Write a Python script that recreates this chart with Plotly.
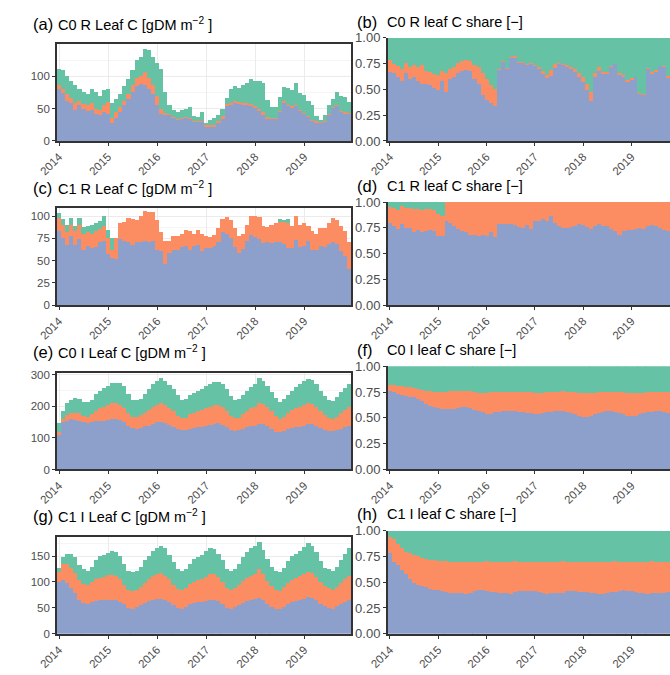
import plotly.graph_objects as go
import pandas as pd

# Monthly time axis (first of each month, Jan 2014 - Dec 2019)
months = pd.date_range("2014-01-01", "2019-12-01", freq="MS")
year_ticks = ["2014-01-01", "2015-01-01", "2016-01-01", "2017-01-01", "2018-01-01", "2019-01-01"]
year_labels = ["2014", "2015", "2016", "2017", "2018", "2019"]

# ---- (a) C0 R leaf C [gDM m-2] ----
c0r_blue = [80, 74, 62, 58, 48, 55, 50, 46, 48, 42, 40, 44,
            42, 28, 35, 45, 55, 65, 75, 85, 88, 86, 80, 72,
            55, 42, 40, 40, 36, 33, 35, 36, 35, 30, 30, 30,
            22, 22, 22, 28, 35, 55, 57, 60, 58, 57, 56, 55,
            52, 46, 40, 35, 34, 34, 45, 60, 55, 52, 54, 47,
            42, 38, 32, 29, 28, 30, 40, 52, 55, 45, 43, 42]
c0r_orange = [6, 6, 10, 8, 10, 7, 7, 9, 10, 8, 7, 11,
              18, 8, 9, 7, 7, 8, 11, 13, 12, 20, 18, 14,
              15, 8, 3, 2, 1, 1, 1, 1, 1, 1, 1, 1,
              2, 2, 2, 2, 3, 2, 2, 2, 2, 2, 2, 2,
              2, 4, 4, 2, 1, 1, 1, 1, 1, 2, 2, 1,
              1, 1, 1, 1, 2, 1, 1, 1, 1, 1, 1, 1]
c0r_green = [25, 30, 28, 26, 29, 18, 18, 17, 22, 25, 23, 23,
             20, 22, 21, 20, 23, 22, 24, 27, 30, 36, 42, 44,
             50, 62, 33, 13, 11, 11, 11, 13, 16, 7, 6, 14,
             4, 8, 11, 10, 12, 9, 21, 23, 22, 27, 32, 38,
             39, 42, 46, 26, 17, 17, 22, 23, 26, 24, 34, 26,
             28, 23, 22, 8, 2, 9, 14, 12, 20, 24, 24, 17]

# ---- (b) C0 R leaf C share [-] ----
c0r_share_blue = [.67, .66, .62, .58, .66, .60, .62, .58, .55, .55, .54, .52,
                  .50, .58, .48, .60, .62, .66, .68, .69, .68, .60, .55, .45,
                  .40, .37, .34, .69, .77, .70, .81, .81, .76, .76, .74, .75,
                  .73, .70, .65, .61, .63, .71, .75, .74, .72, .70, .67, .62,
                  .57, .50, .39, .62, .68, .66, .66, .72, .75, .65, .63, .58,
                  .60, .62, .46, .45, .70, .66, .68, .73, .72, .61, .55, .55]
c0r_share_orange = [.12, .09, .11, .12, .10, .12, .12, .14, .19, .13, .13, .13,
                    .14, .10, .18, .10, .10, .10, .10, .10, .10, .14, .17, .21,
                    .20, .17, .17, .01, .01, .01, .01, .02, .01, .01, .01, .01,
                    .01, .02, .03, .03, .06, .04, .01, .01, .02, .02, .03, .04,
                    .05, .05, .09, .04, .04, .01, .01, .01, .00, .01, .01, .01,
                    .01, .00, .01, .01, .01, .01, .01, .00, .01, .02, .01, .01]
c0r_share_green = [.21, .25, .27, .30, .24, .28, .26, .28, .26, .32, .33, .35,
                   .36, .32, .34, .30, .28, .24, .22, .21, .22, .26, .28, .34,
                   .40, .46, .49, .30, .22, .29, .18, .17, .23, .23, .25, .24,
                   .26, .28, .32, .36, .31, .25, .24, .25, .26, .28, .30, .34,
                   .38, .45, .52, .34, .28, .33, .33, .27, .25, .34, .36, .41,
                   .39, .38, .53, .54, .29, .33, .31, .27, .27, .37, .44, .44]

# ---- (c) C1 R leaf C [gDM m-2] ----
c1r_blue = [83, 75, 67, 77, 67, 74, 62, 66, 64, 65, 70, 72,
            57, 52, 51, 74, 72, 70, 67, 70, 70, 72, 70, 72,
            62, 60, 46, 58, 61, 62, 65, 66, 61, 66, 67, 60,
            64, 64, 66, 70, 82, 80, 75, 65, 58, 63, 72, 78,
            76, 74, 69, 70, 69, 70, 70, 68, 64, 64, 73, 65,
            66, 72, 61, 61, 66, 65, 68, 71, 68, 60, 55, 40]
c1r_orange = [14, 15, 15, 13, 16, 16, 18, 16, 16, 18, 15, 16,
              18, 10, 24, 18, 21, 27, 29, 25, 30, 33, 34, 32,
              33, 22, 26, 14, 16, 15, 15, 18, 22, 14, 17, 20,
              13, 12, 12, 16, 14, 19, 20, 21, 19, 17, 18, 22,
              24, 25, 19, 17, 21, 22, 24, 25, 28, 24, 27, 25,
              26, 17, 22, 19, 20, 21, 24, 26, 27, 28, 28, 30]
c1r_green = [6, 6, 8, 7, 5, 7, 7, 6, 10, 9, 9, 12,
             9, 13, 0, 0, 0, 0, 0, 0, 0, 0, 0, 0,
             0, 0, 0, 0, 0, 0, 0, 0, 0, 0, 0, 0,
             0, 0, 0, 0, 0, 0, 0, 0, 0, 0, 0, 0,
             0, 0, 0, 0, 0, 0, 2, 2, 4, 0, 0, 0,
             0, 0, 0, 0, 0, 0, 0, 0, 0, 0, 0, 0]

# ---- (d) C1 R leaf C share [-] ----
c1r_share_blue = [.80, .77, .74, .79, .75, .75, .71, .73, .71, .72, .73, .72,
                  .67, .67, .82, .80, .77, .74, .72, .71, .68, .68, .67, .68,
                  .67, .71, .66, .79, .79, .79, .79, .78, .76, .75, .78, .74,
                  .82, .82, .84, .82, .86, .80, .77, .75, .75, .76, .77, .79,
                  .78, .76, .74, .77, .79, .77, .77, .74, .72, .68, .72, .73,
                  .73, .74, .75, .74, .77, .78, .77, .75, .73, .72, .68, .67]
c1r_share_orange = [.15, .17, .18, .17, .19, .19, .22, .20, .21, .21, .20, .20,
                    .21, .19, .18, .20, .23, .26, .28, .29, .32, .32, .33, .32,
                    .33, .29, .34, .21, .21, .21, .21, .22, .24, .25, .22, .26,
                    .18, .18, .16, .18, .14, .20, .23, .25, .25, .24, .23, .21,
                    .22, .24, .26, .23, .21, .23, .23, .26, .28, .32, .28, .27,
                    .27, .26, .25, .26, .23, .22, .23, .25, .27, .28, .32, .33]
c1r_share_green = [.05, .06, .08, .04, .06, .06, .07, .07, .08, .07, .07, .08,
                   .12, .14, 0, 0, 0, 0, 0, 0, 0, 0, 0, 0,
                   0, 0, 0, 0, 0, 0, 0, 0, 0, 0, 0, 0,
                   0, 0, 0, 0, 0, 0, 0, 0, 0, 0, 0, 0,
                   0, 0, 0, 0, 0, 0, 0, 0, 0, 0, 0, 0,
                   0, 0, 0, 0, 0, 0, 0, 0, 0, 0, 0, 0]

# ---- (e) C0 I leaf C [gDM m-2] ----
c0i_blue = [110, 150, 155, 160, 158, 153, 150, 148, 150, 155, 155, 155,
            158, 160, 160, 158, 150, 140, 132, 130, 132, 138, 140, 145,
            150, 152, 148, 142, 135, 128, 125, 125, 128, 132, 135, 135,
            138, 142, 145, 148, 142, 135, 125, 122, 125, 130, 135, 138,
            140, 145, 145, 140, 128, 120, 118, 122, 128, 132, 135, 135,
            140, 145, 145, 140, 132, 125, 122, 122, 125, 130, 135, 138]
c0i_orange = [10, 10, 17, 20, 22, 25, 20, 20, 25, 30, 40, 45,
              47, 50, 50, 47, 45, 40, 36, 38, 40, 42, 50, 55,
              55, 60, 57, 53, 50, 42, 40, 40, 47, 48, 50, 55,
              57, 58, 60, 57, 56, 50, 45, 43, 40, 45, 50, 57,
              60, 67, 63, 60, 57, 50, 42, 46, 50, 56, 60, 65,
              65, 67, 63, 60, 53, 47, 43, 40, 43, 48, 55, 62]
c0i_green = [28, 25, 38, 42, 48, 47, 45, 47, 47, 55, 55, 58,
             60, 65, 65, 70, 70, 60, 54, 52, 53, 60, 65, 70,
             75, 78, 77, 73, 70, 65, 57, 60, 60, 62, 63, 65,
             70, 72, 73, 71, 72, 70, 62, 55, 60, 63, 65, 67,
             72, 78, 72, 65, 60, 58, 55, 57, 60, 62, 67, 70,
             75, 76, 77, 70, 65, 60, 55, 56, 62, 67, 70, 72]

# ---- (f) C0 I leaf C share [-] ----
c0i_share_blue = [.76, .75, .73, .72, .71, .70, .70, .68, .66, .63, .61, .60,
                  .59, .58, .58, .58, .58, .59, .60, .60, .59, .57, .56, .55,
                  .53, .53, .55, .55, .56, .56, .56, .56, .55, .55, .54, .54,
                  .53, .53, .54, .55, .55, .56, .56, .56, .55, .54, .53, .52,
                  .51, .51, .52, .53, .54, .55, .56, .56, .55, .54, .53, .52,
                  .52, .52, .53, .54, .55, .55, .56, .56, .55, .54, .53, .53]
c0i_share_orange = [.06, .07, .08, .09, .09, .10, .09, .10, .11, .13, .15, .15,
                    .16, .17, .17, .18, .18, .17, .16, .16, .17, .18, .18, .19,
                    .21, .22, .20, .20, .19, .19, .19, .19, .20, .20, .21, .21,
                    .21, .21, .20, .20, .20, .19, .19, .20, .20, .21, .22, .22,
                    .23, .23, .22, .21, .21, .20, .19, .19, .20, .21, .22, .22,
                    .22, .22, .21, .20, .20, .20, .19, .19, .20, .21, .22, .22]
c0i_share_green = [.18, .18, .19, .19, .20, .20, .21, .22, .23, .24, .24, .25,
                   .25, .25, .25, .24, .24, .24, .24, .24, .24, .25, .26, .26,
                   .26, .25, .25, .25, .25, .25, .25, .25, .25, .25, .25, .25,
                   .26, .26, .26, .25, .25, .25, .25, .24, .25, .25, .25, .26,
                   .26, .26, .26, .26, .25, .25, .25, .25, .25, .25, .25, .26,
                   .26, .26, .26, .26, .25, .25, .25, .25, .25, .25, .25, .25]

# ---- (g) C1 I leaf C [gDM m-2] ----
c1i_blue = [100, 103, 98, 88, 78, 66, 60, 58, 62, 64, 65, 66,
            66, 66, 65, 62, 57, 50, 48, 52, 55, 60, 63, 66,
            68, 68, 66, 62, 55, 50, 48, 52, 57, 60, 62, 62,
            64, 66, 66, 64, 58, 50, 48, 52, 56, 60, 63, 65,
            68, 70, 66, 58, 52, 48, 48, 52, 58, 62, 64, 66,
            68, 71, 70, 65, 58, 54, 50, 48, 53, 58, 62, 65]
c1i_orange = [20, 32, 37, 40, 40, 38, 37, 37, 38, 41, 43, 44,
              47, 47, 47, 43, 38, 35, 34, 33, 35, 38, 42, 46,
              47, 50, 46, 43, 40, 37, 37, 36, 39, 40, 41, 44,
              46, 49, 49, 46, 42, 38, 37, 36, 39, 42, 45, 47,
              47, 55, 49, 44, 40, 37, 34, 38, 40, 42, 44, 46,
              48, 49, 48, 45, 42, 38, 38, 37, 37, 40, 43, 47]
c1i_green = [8, 13, 20, 27, 30, 28, 28, 27, 30, 37, 42, 42,
             44, 47, 46, 45, 40, 37, 38, 37, 40, 44, 45, 48,
             50, 52, 53, 47, 43, 38, 37, 37, 39, 45, 45, 46,
             50, 50, 48, 45, 42, 37, 37, 37, 40, 46, 50, 53,
             55, 53, 47, 43, 38, 37, 38, 38, 42, 46, 47, 48,
             52, 55, 52, 48, 40, 36, 37, 37, 40, 44, 50, 53]

# ---- (h) C1 I leaf C share [-] ----
c1i_share_blue = [.79, .70, .67, .62, .58, .53, .50, .48, .47, .46, .44, .43,
                  .43, .42, .41, .40, .40, .40, .40, .39, .40, .42, .43, .43,
                  .42, .41, .41, .40, .40, .40, .39, .41, .42, .42, .42, .42,
                  .42, .41, .40, .39, .40, .40, .40, .40, .42, .42, .42, .41,
                  .41, .41, .40, .40, .39, .39, .40, .41, .41, .42, .43, .42,
                  .42, .41, .40, .40, .39, .40, .40, .40, .40, .41, .41, .42]
c1i_share_orange = [.15, .22, .20, .22, .22, .26, .27, .28, .27, .27, .28, .29,
                    .28, .29, .30, .30, .30, .30, .30, .31, .30, .28, .27, .27,
                    .29, .29, .29, .30, .30, .30, .31, .30, .28, .28, .28, .28,
                    .28, .29, .30, .31, .30, .30, .30, .31, .28, .28, .28, .29,
                    .29, .29, .30, .30, .31, .31, .30, .29, .30, .28, .27, .28,
                    .28, .29, .30, .30, .31, .31, .30, .30, .30, .29, .29, .28]
c1i_share_green = [.06, .08, .13, .16, .20, .21, .23, .24, .26, .27, .28, .28,
                   .29, .29, .29, .30, .30, .30, .30, .30, .30, .30, .30, .30,
                   .29, .30, .30, .30, .30, .30, .30, .29, .30, .30, .30, .30,
                   .30, .30, .30, .30, .30, .30, .30, .29, .30, .30, .30, .30,
                   .30, .30, .30, .30, .30, .30, .30, .30, .29, .30, .30, .30,
                   .30, .30, .30, .30, .30, .29, .30, .30, .30, .30, .30, .30]

COLORS = ["#8DA0CB", "#FC8D62", "#66C2A5"]
W, H = 670, 675
FONT = "Liberation Sans, Arial, sans-serif"
TICK_COLOR = "#4D4D4D"
LINE_COLOR = "#333333"

panels = [
    dict(tag="(a)", title="C0 R Leaf C [gDM m<sup>−2</sup> ]",
         series=[c0r_blue, c0r_orange, c0r_green], yrange=[0, 150],
         yticks=[0, 50, 100], yminor=[25, 75, 125]),
    dict(tag="(b)", title="C0 R leaf C share [−]",
         series=[c0r_share_blue, c0r_share_orange, c0r_share_green]),
    dict(tag="(c)", title="C1 R Leaf C [gDM m<sup>−2</sup> ]",
         series=[c1r_blue, c1r_orange, c1r_green], yrange=[0, 108.7],
         yticks=[0, 25, 50, 75, 100], yminor=[12.5, 37.5, 62.5, 87.5]),
    dict(tag="(d)", title="C1 R leaf C share [−]",
         series=[c1r_share_blue, c1r_share_orange, c1r_share_green]),
    dict(tag="(e)", title="C0 I Leaf C [gDM m<sup>−2</sup> ]",
         series=[c0i_blue, c0i_orange, c0i_green], yrange=[0, 306],
         yticks=[0, 100, 200, 300], yminor=[50, 150, 250]),
    dict(tag="(f)", title="C0 I leaf C share [−]",
         series=[c0i_share_blue, c0i_share_orange, c0i_share_green]),
    dict(tag="(g)", title="C1 I Leaf C [gDM m<sup>−2</sup> ]",
         series=[c1i_blue, c1i_orange, c1i_green], yrange=[0, 187],
         yticks=[0, 50, 100, 150], yminor=[25, 75, 125, 175]),
    dict(tag="(h)", title="C1 I leaf C share [−]",
         series=[c1i_share_blue, c1i_share_orange, c1i_share_green]),
]

# pixel geometry of the grid of panels
ROW_STEP = 168
LEFT_X = (39, 342)
RIGHT_X = (379.5, 670)
LEFT_TOP, RIGHT_TOP, BOTTOM = 38, 31.5, 137

def px_x(v):
    return v / W

def px_y(v):
    return 1 - v / H

BAR_WIDTH = 31 * 86400000  # one month, in ms

fig = go.Figure()
layout = dict(
    width=W, height=H, margin=dict(l=0, r=0, t=0, b=0),
    paper_bgcolor="white", plot_bgcolor="white",
    barmode="stack", bargap=0, showlegend=False,
    font=dict(family=FONT, color=TICK_COLOR, size=11),
    annotations=[],
)

for k, p in enumerate(panels):
    row, col = divmod(k, 2)
    n = k + 1
    xa = "x" if n == 1 else f"x{n}"
    ya = "y" if n == 1 else f"y{n}"
    for vals, c in zip(p["series"], COLORS):
        fig.add_trace(go.Bar(
            x=months, y=vals, xaxis=xa, yaxis=ya, width=BAR_WIDTH,
            marker=dict(color=c, line=dict(width=0)), hoverinfo="skip",
        ))
    off = row * ROW_STEP
    if col == 0:
        xdom = [px_x(LEFT_X[0]), px_x(LEFT_X[1])]
        ydom = [px_y(BOTTOM + off), px_y(LEFT_TOP + off)]
        xrng = ["2013-12-16", "2019-12-17"]
    else:
        xdom = [px_x(RIGHT_X[0]), 1.0]
        ydom = [px_y(BOTTOM + off), px_y(RIGHT_TOP + off)]
        xrng = ["2013-12-16", "2019-10-20"]

    xaxis = dict(
        domain=xdom, anchor=ya, type="date", range=xrng,
        tickvals=year_ticks, ticktext=year_labels, tickangle=-45,
        ticks="outside", ticklen=3, tickwidth=1, tickcolor=LINE_COLOR,
        tickfont=dict(family=FONT, size=11.5, color=TICK_COLOR),
        showline=True, linecolor=LINE_COLOR, linewidth=1.5,
        zeroline=False,
    )
    yaxis = dict(
        domain=ydom, anchor=xa,
        ticks="outside", ticklen=3, tickwidth=1, tickcolor=LINE_COLOR,
        showline=True, linecolor=LINE_COLOR, linewidth=1.5,
        zeroline=False,
    )
    if col == 0:
        xaxis.update(mirror=True, showgrid=True, gridcolor="#EBEBEB", gridwidth=1)
        yaxis.update(mirror=True, range=p["yrange"], tickvals=p["yticks"],
                     tickfont=dict(family=FONT, size=11.5, color=TICK_COLOR),
                     showgrid=True, gridcolor="#EBEBEB", gridwidth=1,
                     minor=dict(tickvals=p["yminor"], showgrid=True,
                                gridcolor="#F5F5F5", gridwidth=1, ticks=""))
    else:
        xaxis.update(showgrid=False)
        yaxis.update(range=[0, 1], tickvals=[0, 0.25, 0.5, 0.75, 1.0],
                     tickfont=dict(family=FONT, size=13, color=TICK_COLOR),
                     tickformat=".2f", showgrid=False)

    layout[f"xaxis{'' if n == 1 else n}"] = xaxis
    layout[f"yaxis{'' if n == 1 else n}"] = yaxis

    # panel titles
    ty = px_y(17 + off) if col == 0 else px_y(15 + off)
    tag_x = 12 if col == 0 else 346
    title_x = 38 if col == 0 else 377
    layout["annotations"].append(dict(
        text=p["tag"], x=px_x(tag_x), y=ty, xref="paper", yref="paper",
        xanchor="left", yanchor="middle", showarrow=False,
        font=dict(family=FONT, size=16.5, color="black"),
    ))
    layout["annotations"].append(dict(
        text=p["title"], x=px_x(title_x), y=ty, xref="paper", yref="paper",
        xanchor="left", yanchor="middle", showarrow=False,
        font=dict(family=FONT, size=14.5, color="black"),
    ))

fig.update_layout(**layout)
fig.write_html("out.html")
